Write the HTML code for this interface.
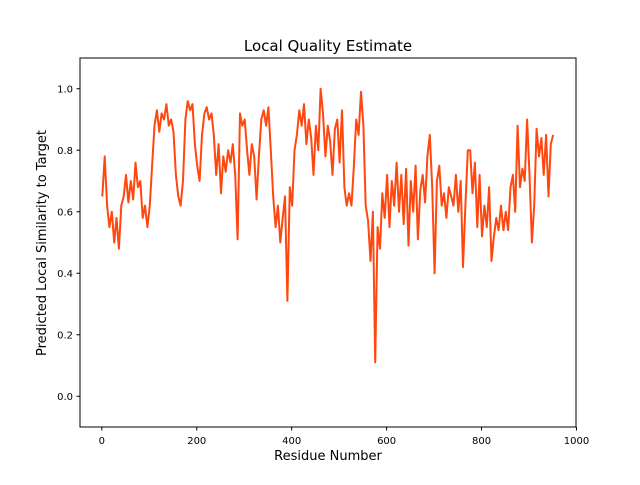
<!DOCTYPE html>
<html><head><meta charset="utf-8"><style>
body{margin:0;background:#fff}
svg text{font-family:"DejaVu Sans","Liberation Sans",sans-serif;fill:#000}
</style></head><body>
<svg id="chart" width="640" height="480" xmlns="http://www.w3.org/2000/svg">
<rect width="640" height="480" fill="#fff"/>
<text x="328" y="51" font-size="15" text-anchor="middle">Local Quality Estimate</text>
<text x="328" y="460" font-size="13" text-anchor="middle">Residue Number</text>
<text transform="translate(46,243) rotate(-90)" font-size="13" text-anchor="middle">Predicted Local Similarity to Target</text>
<g id="ticks"></g>
<path id="series" fill="none" stroke="#ff4810" stroke-width="2" stroke-linejoin="round"/>
<rect x="80" y="58" width="496" height="369" fill="none" stroke="#000" stroke-width="1"/>
</svg>
<script>
const RES_START = 1;
const RES_STEP = 5;
const quality = [
0.65,0.78,0.62,0.55,0.60,0.50,0.58,0.48,0.62,0.65,0.72,0.63,0.70,0.64,0.76,0.68,0.70,0.58,0.62,0.55,0.62,
0.75,0.88,0.93,0.86,0.92,0.90,0.95,0.88,0.90,0.86,0.72,0.65,0.62,0.70,0.90,0.96,0.93,0.95,0.82,
0.75,0.70,0.85,0.92,0.94,0.90,0.92,0.85,0.72,0.82,0.66,0.78,0.73,0.80,0.76,0.82,0.72,0.51,0.92,0.88,
0.90,0.80,0.72,0.82,0.78,0.64,0.78,0.90,0.93,0.88,0.94,0.80,0.65,0.55,0.62,0.50,0.58,0.65,0.31,0.68,
0.62,0.80,0.85,0.93,0.88,0.95,0.82,0.90,0.84,0.72,0.88,0.80,1.00,0.92,0.78,0.88,0.83,0.72,0.87,0.90,
0.76,0.93,0.68,0.62,0.66,0.62,0.75,0.90,0.85,0.99,0.88,0.62,0.57,0.44,0.60,0.11,
0.55,0.48,0.66,0.58,0.72,0.55,0.70,0.62,0.76,0.60,0.72,0.56,0.74,0.49,0.70,0.60,0.75,0.51,0.67,0.72,0.63,
0.78,0.85,0.68,0.40,0.70,0.75,0.62,0.66,0.58,0.68,0.65,0.62,0.72,0.60,0.70,0.42,0.62,0.80,0.80,0.66,
0.76,0.55,0.72,0.52,0.62,0.55,0.68,0.44,0.52,0.58,0.54,0.62,0.54,0.60,0.54,0.68,0.72,0.60,0.88,0.68,
0.74,0.70,0.90,0.72,0.50,0.62,0.87,0.78,0.84,0.72,0.85,0.65,0.82,0.85
];
const xTicks = [0,200,400,600,800,1000];
const yTicks = [0.0,0.2,0.4,0.6,0.8,1.0];
const X0=80,X1=576,Y0=58,Y1=427, XMIN=-46, XMAX=999, YMIN=-0.1, YMAX=1.1;
function sx(v){return X0+(v-XMIN)/(XMAX-XMIN)*(X1-X0);}
function sy(v){return Y1-(v-YMIN)/(YMAX-YMIN)*(Y1-Y0);}
const NS="http://www.w3.org/2000/svg";
const g=document.getElementById('ticks');
xTicks.forEach(t=>{
  const l=document.createElementNS(NS,'line');
  
  
  l.setAttribute('x1',sx(t));l.setAttribute('x2',sx(t));l.setAttribute('y1',Y1);l.setAttribute('y2',Y1+3.5);l.setAttribute('stroke','#000');
  g.appendChild(l);
  const tx=document.createElementNS(NS,'text');
  
  
  tx.setAttribute('x',sx(t));tx.setAttribute('y',Y1+17);tx.setAttribute('font-size','10');tx.setAttribute('text-anchor','middle');
  tx.textContent=t;g.appendChild(tx);
});
yTicks.forEach(t=>{
  const l=document.createElementNS(NS,'line');
  
  
  l.setAttribute('x1',X0-3.5);l.setAttribute('x2',X0);l.setAttribute('y1',sy(t));l.setAttribute('y2',sy(t));l.setAttribute('stroke','#000');
  g.appendChild(l);
  const tx=document.createElementNS(NS,'text');
  
  
  tx.setAttribute('x',X0-7);tx.setAttribute('y',sy(t)+3.5);tx.setAttribute('font-size','10');tx.setAttribute('text-anchor','end');
  tx.textContent=t.toFixed(1);g.appendChild(tx);
});
let d='';
quality.forEach((v,i)=>{const r=RES_START+i*RES_STEP;d+=(i?'L':'M')+sx(r).toFixed(1)+','+sy(v).toFixed(1);});
document.getElementById('series').setAttribute('d',d);
</script>
</body></html>
